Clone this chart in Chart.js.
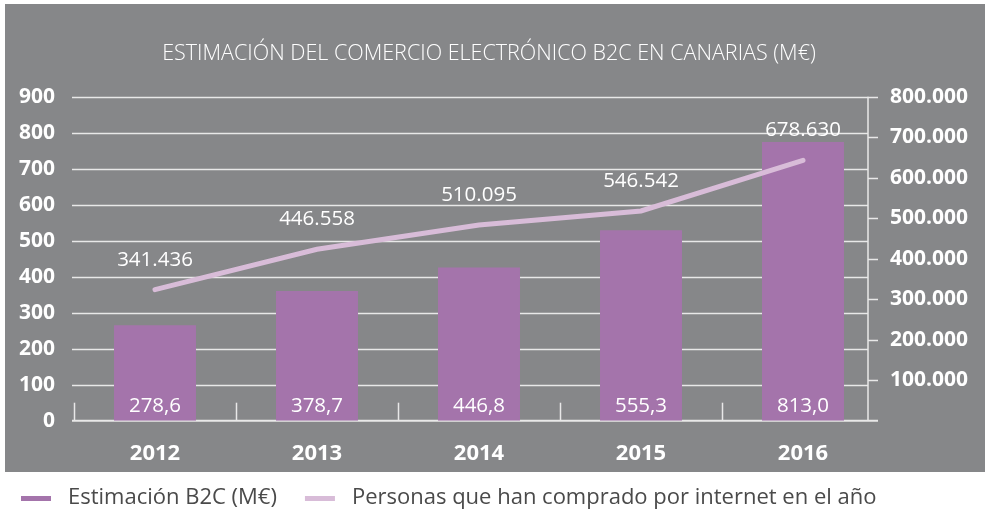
<!DOCTYPE html>
<html>
<head>
<meta charset="utf-8">
<script src="https://cdn.jsdelivr.net/npm/chart.js@4"></script>
<style>
  body { margin: 0; background: #ffffff; }
  canvas { display: block; }
</style>
</head>
<body>
<canvas id="b2c-chart" width="985" height="511"></canvas>
<script>
// --- Data ---
const years = ['2012', '2013', '2014', '2015', '2016'];
const b2cValues = [278.6, 378.7, 446.8, 555.3, 813.0];          // M€
const buyers = [341436, 446558, 510095, 546542, 678630];        // personas
const leftAxis = { min: 0, max: 900, step: 100 };
const rightAxis = { min: 0, max: 800000, step: 100000 };
// the marks in the original sit a bit below the printed axes
const barScaleMax = 945;
const lineScaleMax = 844000;

const BAR_COLOR = '#a474ab';
const LINE_COLOR = '#d8bcd8';
const BG_GRAY = '#868789';
const FONT = "'Open Sans', 'DejaVu Sans', sans-serif";

function thousands(v) {
    return String(v).replace(/\B(?=(\d{3})+(?!\d))/g, '.');
}

// legend marker: 30x5 stripe with some room on the left
const markerCache = {};
function legendMarker(color) {
    if (!markerCache[color]) {
        const c = document.createElement('canvas');
        c.width = 49;
        c.height = 5;
        const g = c.getContext('2d');
        g.fillStyle = color;
        g.fillRect(13, 0, 30, 5);
        markerCache[color] = c;
    }
    return markerCache[color];
}

// gray panel behind the plot
const panelPlugin = {
    id: 'panel',
    beforeDraw(chart) {
        const ctx = chart.ctx;
        ctx.save();
        ctx.fillStyle = BG_GRAY;
        ctx.fillRect(5, 4, chart.width - 5, chart.scales.x.bottom - 4);
        ctx.restore();
    }
};

// grid, axis lines and small ticks, drawn like the original
const gridPlugin = {
    id: 'customGrid',
    beforeDatasetsDraw(chart) {
        const { ctx, chartArea } = chart;
        const yl = chart.scales.yLeft;
        const yr = chart.scales.yRight;
        const x = chart.scales.x;
        const rightLine = chartArea.right - 16;
        ctx.save();
        ctx.strokeStyle = '#e8e8e8';
        ctx.lineWidth = 1.5;
        yl.ticks.forEach(t => {
            if (t.value === 0) return;
            const y = Math.round(yl.getPixelForValue(t.value)) + 0.5;
            ctx.beginPath();
            ctx.moveTo(chartArea.left - 2, y);
            ctx.lineTo(rightLine, y);
            ctx.stroke();
        });
        // right axis line + ticks
        ctx.beginPath();
        ctx.moveTo(rightLine, chartArea.top);
        ctx.lineTo(rightLine, chartArea.bottom);
        ctx.stroke();
        yr.ticks.forEach(t => {
            if (t.value === 0) return;
            const y = Math.round(yr.getPixelForValue(t.value)) + 0.5;
            ctx.beginPath();
            ctx.moveTo(rightLine, y);
            ctx.lineTo(rightLine + 10, y);
            ctx.stroke();
        });
        // category separators
        const half = (chartArea.right - chartArea.left) / years.length / 2;
        years.forEach((_, i) => {
            const px = Math.round(x.getPixelForValue(i) - half) + 0.5;
            ctx.beginPath();
            ctx.moveTo(px, chartArea.bottom - 18);
            ctx.lineTo(px, chartArea.bottom);
            ctx.stroke();
        });
        // x axis line
        ctx.lineWidth = 2;
        ctx.beginPath();
        ctx.moveTo(chartArea.left - 2, chartArea.bottom);
        ctx.lineTo(rightLine + 10, chartArea.bottom);
        ctx.stroke();
        ctx.restore();
    }
};

// value labels
const labelPlugin = {
    id: 'valueLabels',
    afterDatasetsDraw(chart) {
        const { ctx, chartArea } = chart;
        ctx.save();
        ctx.fillStyle = '#ffffff';
        ctx.font = `20.5px ${FONT}`;
        ctx.textAlign = 'center';
        ctx.textBaseline = 'middle';
        chart.getDatasetMeta(0).data.forEach((bar, i) => {
            ctx.fillText(b2cValues[i].toFixed(1).replace('.', ','), bar.x, chartArea.bottom - 15);
        });
        chart.getDatasetMeta(1).data.forEach((pt, i) => {
            ctx.fillText(thousands(buyers[i]), pt.x, pt.y - 30);
        });
        ctx.restore();
    }
};

const yTickFont = { family: FONT, size: 21, weight: 'bold' };
const xTickFont = { family: FONT, size: 22, weight: 'bold' };

new Chart(document.getElementById('b2c-chart'), {
    data: {
        labels: years,
        datasets: [
            {
                type: 'bar',
                label: 'Estimación B2C (M€)',
                data: b2cValues,
                backgroundColor: BAR_COLOR,
                yAxisID: 'yBar',
                categoryPercentage: 1,
                barPercentage: 0.506,
                order: 1
            },
            {
                type: 'line',
                label: 'Personas que han comprado por internet en el año',
                data: buyers,
                borderColor: LINE_COLOR,
                backgroundColor: LINE_COLOR,
                borderWidth: 5,
                borderCapStyle: 'round',
                pointRadius: 0,
                tension: 0,
                yAxisID: 'yLine',
                order: 0
            }
        ]
    },
    options: {
        responsive: false,
        animation: false,
        layout: { padding: { left: -7, right: 0, top: 0, bottom: -8 } },
        plugins: {
            title: {
                display: true,
                text: 'ESTIMACIÓN DEL COMERCIO ELECTRÓNICO B2C EN CANARIAS (M€)',
                color: '#ffffff',
                font: { family: FONT, size: 21.5, weight: 300 },
                padding: { top: 41, bottom: 30 }
            },
            legend: {
                position: 'bottom',
                align: 'start',
                labels: {
                    color: '#4a4a4a',
                    font: { family: FONT, size: 22 },
                    usePointStyle: true,
                    pointStyleWidth: 49,
                    boxHeight: 5,
                    padding: 15,
                    generateLabels: chart =>
                        Chart.defaults.plugins.legend.labels.generateLabels(chart)
                            .map(l => ({ ...l, lineWidth: 0, pointStyle: legendMarker(l.fillStyle) }))
                            .sort((a, b) => a.datasetIndex - b.datasetIndex)
                }
            },
            tooltip: { enabled: false }
        },
        scales: {
            x: {
                grid: { display: false },
                border: { display: false },
                ticks: { color: '#ffffff', font: xTickFont, padding: 12 },
                afterFit: s => { s.height = 51.3; }
            },
            yLeft: {
                position: 'left',
                min: leftAxis.min,
                max: leftAxis.max,
                grid: { display: false },
                border: { display: false },
                ticks: { stepSize: leftAxis.step, color: '#ffffff', font: yTickFont, padding: 11 },
                afterFit: s => { s.width = 81; }
            },
            yRight: {
                position: 'right',
                min: rightAxis.min,
                max: rightAxis.max,
                grid: { display: false },
                border: { display: false },
                ticks: {
                    stepSize: rightAxis.step,
                    color: '#ffffff',
                    font: yTickFont,
                    padding: -2,
                    callback: v => (v === 0 ? '' : thousands(v))
                },
                afterFit: s => { s.width = 101; }
            },
            yBar: { display: false, min: 0, max: barScaleMax },
            yLine: { display: false, min: 0, max: lineScaleMax }
        }
    },
    plugins: [panelPlugin, gridPlugin, labelPlugin]
});
</script>
</body>
</html>
